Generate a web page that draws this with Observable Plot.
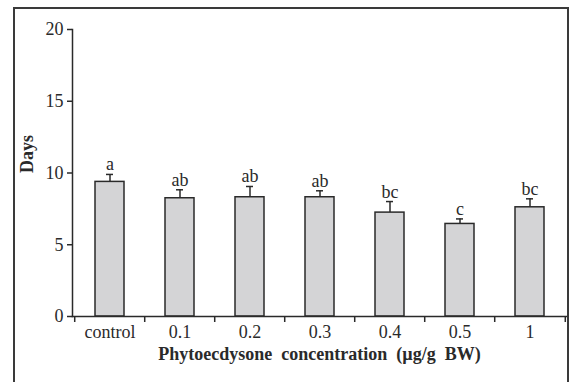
<!DOCTYPE html>
<html>
<head>
<meta charset="utf-8">
<script src="https://cdn.jsdelivr.net/npm/d3@7"></script>
<script src="https://cdn.jsdelivr.net/npm/@observablehq/plot@0.6"></script>
<style>
  html, body { margin: 0; padding: 0; background: #fff; }
  #wrap { position: relative; width: 576px; height: 382px; overflow: hidden; }
  #border { position: absolute; left: 13px; top: 7px; width: 552px; height: 400px; border: 2px solid #3a3a3a; border-bottom: none; }
  #chart { position: absolute; left: 0; top: 0; width: 576px; }
</style>
</head>
<body>
<div id="wrap"><div id="border"></div><div id="chart"></div></div>
<script>
const categories = ["control", "0.1", "0.2", "0.3", "0.4", "0.5", "1"];
const means = [9.38, 8.24, 8.31, 8.31, 7.24, 6.45, 7.61];
const errors = [0.52, 0.59, 0.75, 0.45, 0.77, 0.35, 0.59];
const letters = ["a", "ab", "ab", "ab", "bc", "c", "bc"];
const yTicks = [0, 5, 10, 15, 20];

const data = categories.map((c, i) => ({cat: c, mean: means[i], se: errors[i], top: means[i] + errors[i], letter: letters[i]}));

const width = 576, height = 382;
const marginLeft = 72, marginRight = 10, marginTop = 29, marginBottom = 66;
const step = (width - marginLeft - marginRight) / categories.length;
const font = "'Liberation Serif', 'DejaVu Serif', serif";
const ink = "#2a2a2a";

const chart = Plot.plot({
  width, height, marginLeft, marginRight, marginTop, marginBottom,
  style: {fontFamily: font, fontSize: "18px", color: ink, background: "transparent"},
  x: {domain: categories, paddingInner: 0.59, paddingOuter: 0.295},
  y: {domain: [0, 20]},
  marks: [
    Plot.barY(data, {x: "cat", y: "mean", fill: "#d4d4d6", stroke: ink, strokeWidth: 1.5}),
    Plot.ruleX(data, {x: "cat", y1: "mean", y2: "top", stroke: ink, strokeWidth: 1.5}),
    Plot.tickY(data, {x: "cat", y: "top", stroke: ink, strokeWidth: 1.5, insetLeft: 11, insetRight: 11}),
    Plot.text(data, {x: "cat", y: "top", text: "letter", lineAnchor: "bottom", dy: -4, fontSize: 18, fill: ink}),
    Plot.frame({anchor: "left", stroke: ink, strokeWidth: 1.5}),
    Plot.frame({anchor: "bottom", stroke: ink, strokeWidth: 1.5}),
    Plot.ruleX(categories, {x: d => d, dx: -step / 2, y1: 0, y2: 0, insetBottom: -6, stroke: ink, strokeWidth: 1.5}),
    Plot.ruleX([categories[categories.length - 1]], {x: d => d, dx: step / 2, y1: 0, y2: 0, insetBottom: -6, stroke: ink, strokeWidth: 1.5}),
    Plot.axisY(yTicks, {tickSize: 5, tickPadding: 4, fontSize: 18, stroke: ink, strokeWidth: 1.5, fill: ink, label: null}),
    Plot.axisX({tickSize: 0, tickPadding: 9, fontSize: 18, fill: ink, label: null}),
    Plot.text(["Days"], {frameAnchor: "left", dx: -45, rotate: -90, fontWeight: "bold", fontSize: 18, fill: ink}),
    Plot.text(["Phytoecdysone\u00a0\u00a0concentration\u00a0\u00a0(\u00b5g/g\u00a0\u00a0BW)"], {frameAnchor: "bottom", dy: 43, fontWeight: "bold", fontSize: 18, fill: ink})
  ]
});
document.getElementById("chart").appendChild(chart);
</script>
</body>
</html>
